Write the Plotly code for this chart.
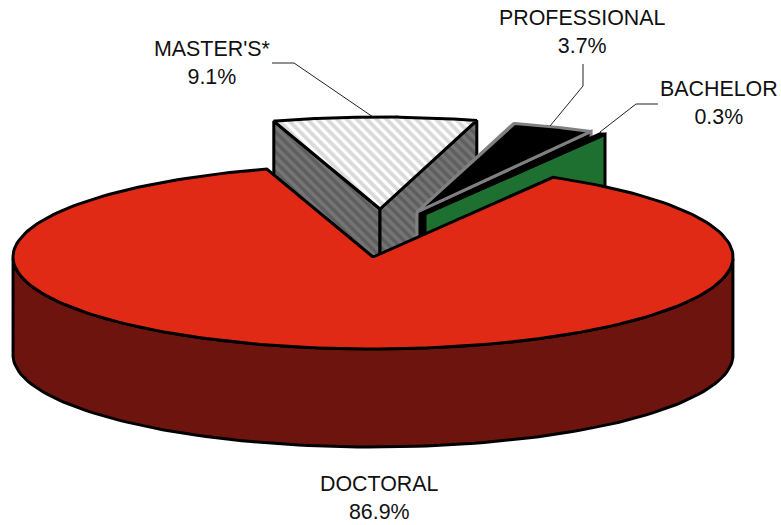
import numpy as np
import plotly.graph_objects as go

# Shares of the pie, in drawing order (clockwise from the doctoral slice)
categories = ["DOCTORAL", "BACHELOR", "PROFESSIONAL", "MASTER'S*"]
shares = [86.9, 0.3, 3.7, 9.1]

# Ellipse of the pie in pixel space
CX, CY = 373, 257
RX, RY = 360, 92
DEPTH = 98
START = 30  # degrees clockwise from the top where the doctoral slice starts

# Pull-out of each slice from the centre, pixels
explode = {"DOCTORAL": (0, 0), "BACHELOR": (52, -43), "PROFESSIONAL": (44, -45), "MASTER'S*": (7, -48)}

# Leader lines, pixels
leaders = {
    "BACHELOR": ([600, 636, 658], [132, 104, 104]),
    "PROFESSIONAL": ([550, 583, 583], [126, 86, 64]),
    "MASTER'S*": ([373, 294, 272], [117, 63, 63]),
}

# Label positions, pixels
label_pos = {"DOCTORAL": (379, 498), "BACHELOR": (719, 103), "PROFESSIONAL": (582, 32), "MASTER'S*": (212, 63)}

FONT = "Liberation Sans, Arial, sans-serif"

PAGE_W, PAGE_H = 781, 525


# Work out the angles from the shares: doctoral runs clockwise from START,
# the others follow and end back at START
angles = {}
a = START
for name, share in zip(["DOCTORAL", "MASTER'S*", "PROFESSIONAL", "BACHELOR"], [shares[0], shares[3], shares[2], shares[1]]):
    angles[name] = (a, a + share * 3.6)
    a += share * 3.6


def rim(name, n=200):
    a0, a1 = angles[name]
    dx, dy = explode[name]
    t = np.radians(np.linspace(a0, a1, n))
    return CX + dx + RX * np.sin(t), CY + dy - RY * np.cos(t)


def apex(name):
    dx, dy = explode[name]
    return CX + dx, CY + dy


def poly(fig, x, y, fillcolor, line_color="black", width=3, pattern=None):
    fig.add_trace(go.Scatter(
        x=list(x) + [x[0]], y=list(y) + [y[0]], mode="lines", fill="toself",
        fillcolor=fillcolor, fillpattern=pattern,
        line=dict(color=line_color, width=width), hoverinfo="skip", showlegend=False,
    ))


def wall(fig, name, end, fillcolor, line_color="black", width=3, pattern=None):
    rx, ry = rim(name)
    ax, ay = apex(name)
    i = 0 if end == "start" else -1
    poly(fig, [ax, rx[i], rx[i], ax], [ay, ry[i], ry[i] + DEPTH, ay + DEPTH], fillcolor, line_color, width, pattern)


def top(fig, name, fillcolor, line_color="black", width=3, pattern=None):
    rx, ry = rim(name)
    ax, ay = apex(name)
    poly(fig, [ax] + list(rx), [ay] + list(ry), fillcolor, line_color, width, pattern)


fig = go.Figure()

# Master's slice
wall_pat = dict(shape="\\", size=7, solidity=0.5, fgcolor="#8c8c8c", bgcolor="#5e5e5e")
top_pat = dict(shape="\\", size=7, solidity=0.55, fgcolor="#b4b4b4", bgcolor="#ffffff")
wall(fig, "MASTER'S*", "start", "#707070", pattern=wall_pat)
wall(fig, "MASTER'S*", "end", "#707070", pattern=wall_pat)
top(fig, "MASTER'S*", "#e0e0e0", pattern=top_pat)

# Professional slice
wall(fig, "PROFESSIONAL", "start", "black", "#808080")
wall(fig, "PROFESSIONAL", "end", "black", "#808080")
top(fig, "PROFESSIONAL", "black", "#808080")

# Bachelor slice
wall(fig, "BACHELOR", "end", "#1e7030")
top(fig, "BACHELOR", "#1e7030")

# Doctoral slice: outer wall in front, then the top
rx, ry = rim("DOCTORAL")
deg = np.degrees(np.arctan2((rx - CX) / RX, (CY - ry) / RY)) % 360
mask = (deg >= 90) & (deg <= 270)
wx, wy = rx[mask], ry[mask]
poly(fig, list(wx) + list(wx[::-1]), list(wy) + list(wy[::-1] + DEPTH), "#6d140e")
top(fig, "DOCTORAL", "#e12a16")

# Leader lines
for name, (lx, ly) in leaders.items():
    fig.add_trace(go.Scatter(x=lx, y=ly, mode="lines", line=dict(color="#222222", width=1),
                             hoverinfo="skip", showlegend=False))

# Labels
for name, share in zip(categories, shares):
    lx, ly = label_pos[name]
    fig.add_annotation(x=lx, y=ly, text=f"{name}<br>{share}%", showarrow=False,
                       font=dict(family=FONT, size=21.4, color="#111111"), align="center")

fig.update_xaxes(range=[0, PAGE_W], visible=False, fixedrange=True)
fig.update_yaxes(range=[PAGE_H, 0], visible=False, fixedrange=True)
fig.update_layout(width=PAGE_W, height=PAGE_H, margin=dict(l=0, r=0, t=0, b=0),
                  paper_bgcolor="white", plot_bgcolor="white", showlegend=False)

# The page's default 8px body margin would push the figure off the window
fig.write_html("out.html", config=dict(displayModeBar=False),
               post_script="document.body.style.margin='0';document.documentElement.style.overflow='hidden';")
